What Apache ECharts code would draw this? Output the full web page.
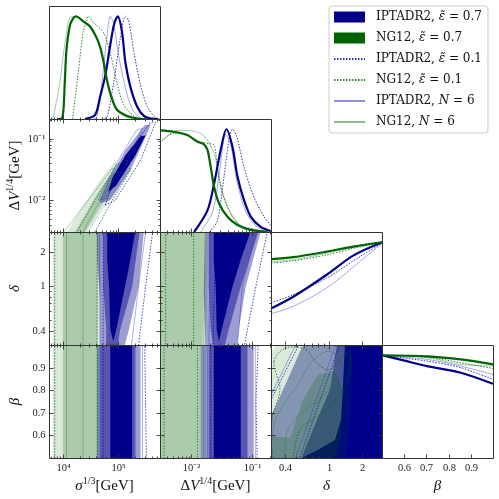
<!DOCTYPE html>
<html>
<head>
<meta charset="utf-8">
<script src="https://cdn.jsdelivr.net/npm/echarts@6/dist/echarts.min.js"></script>
<style>
  html, body { margin: 0; padding: 0; background: #fff; }
  #chart { width: 499px; height: 499px; }
</style>
</head>
<body>
<div id="chart"></div>
<script>
// series names (legend)
const S_I07 = 'IPTADR2, \u03b5\u0303 = 0.7';
const S_G07 = 'NG12, \u03b5\u0303 = 0.7';
const S_I01 = 'IPTADR2, \u03b5\u0303 = 0.1';
const S_G01 = 'NG12, \u03b5\u0303 = 0.1';
const S_I6 = 'IPTADR2, N = 6';
const S_G6 = 'NG12, N = 6';

// axis ranges
const sigmaRange = [5623, 562341];
const dvRange = [0.00302, 0.209];
const deltaRange = [0.3, 3.0];
const betaRange = [0.5, 1.0];

// ticks and tick labels
const sigmaMajor = [1e4, 1e5];
const sigmaMinor = [6e3, 7e3, 8e3, 9e3, 2e4, 3e4, 4e4, 5e4, 6e4, 7e4, 8e4, 9e4, 2e5, 3e5, 4e5, 5e5];
const sigmaLabels = [[1e4, '10\u2074'], [1e5, '10\u2075']];
const dvMajor = [0.01, 0.1];
const dvMinor = [0.004, 0.005, 0.006, 0.007, 0.008, 0.009, 0.02, 0.03, 0.04, 0.05, 0.06, 0.07, 0.08, 0.09, 0.2];
const dvLabels = [[0.01, '10\u207b\u00b2'], [0.1, '10\u207b\u00b9']];
const deltaMajor = [0.4, 1, 2];
const deltaMinor = [0.5, 0.6, 0.7, 0.8, 0.9];
const deltaLabels = [[0.4, '0.4'], [1, '1'], [2, '2']];
const betaMajor = [0.6, 0.7, 0.8, 0.9];
const betaLabels = [[0.6, '0.6'], [0.7, '0.7'], [0.8, '0.8'], [0.9, '0.9']];

// 1D densities: sigma^(1/3)
const sigDensI07 = [[2.51e4,0],[3.81e4,0.04],[4.70e4,0.22],[5.79e4,0.42],[7.14e4,0.72],[8.43e4,0.93],[9.77e4,1.0],[1.16e5,0.85],[1.34e5,0.55],[1.65e5,0.31],[2.18e5,0.12],[2.88e5,0.03],[3.80e5,0.005],[5.0e5,0]];
const sigDensG07 = [[7.94e3,0],[9.77e3,0.01],[1.08e4,0.35],[1.16e4,0.67],[1.34e4,0.91],[1.53e4,0.98],[1.72e4,1.0],[2.33e4,0.95],[3.09e4,0.90],[3.97e4,0.80],[4.70e4,0.70],[5.40e4,0.56],[6.22e4,0.38],[7.45e4,0.22],[9.44e4,0.09],[1.44e5,0.03],[2.18e5,0.005],[3.16e5,0]];
const sigDensI01 = [[5.0e4,0],[6.22e4,0.02],[8.20e4,0.35],[1.08e5,0.78],[1.34e5,1.0],[1.53e5,0.96],[1.89e5,0.66],[2.51e5,0.33],[3.32e5,0.12],[4.70e5,0.01],[5.6e5,0]];
const sigDensG01 = [[1.5e4,0],[1.89e4,0.45],[2.33e4,0.85],[2.69e4,0.96],[2.84e4,1.0],[3.55e4,0.94],[5.40e4,0.84],[7.14e4,0.64],[9.44e4,0.35],[1.24e5,0.14],[1.89e5,0.03],[2.8e5,0]];
const sigDensI6 = [[3.5e4,0],[4.09e4,0.02],[5.05e4,0.35],[6.22e4,0.8],[7.14e4,1.0],[8.20e4,0.93],[1.01e5,0.62],[1.34e5,0.3],[1.77e5,0.1],[2.51e5,0.01],[3.2e5,0]];
const sigDensG6 = [[6.65e3,0],[8.81e3,0.35],[1.08e4,0.72],[1.44e4,1.0],[2.33e4,0.96],[3.81e4,0.83],[5.05e4,0.63],[6.22e4,0.38],[7.67e4,0.18],[1.08e5,0.05],[1.65e5,0]];

// 1D densities: Delta V^(1/4)
const dvDensI07 = [[1.11e-2,0],[1.85e-2,0.21],[2.38e-2,0.47],[3.07e-2,0.80],[3.81e-2,1.0],[4.80e-2,0.83],[5.81e-2,0.54],[7.46e-2,0.31],[9.64e-2,0.15],[0.141,0.05],[0.207,0.01]];
const dvDensG07 = [[3.02e-3,0.99],[5.15e-3,0.976],[8.59e-3,0.944],[1.26e-2,0.879],[1.62e-2,0.854],[1.85e-2,0.80],[2.09e-2,0.636],[2.38e-2,0.44],[2.87e-2,0.28],[3.96e-2,0.149],[5.81e-2,0.068],[9.64e-2,0.02],[0.182,0]];
const dvDensI01 = [[2.0e-2,0],[2.70e-2,0.11],[3.48e-2,0.54],[4.21e-2,0.90],[4.80e-2,1.0],[5.65e-2,0.93],[7.46e-2,0.63],[0.109,0.34],[0.160,0.15],[0.209,0.06]];
const dvDensG01 = [[3.02e-3,0.877],[5.15e-3,0.96],[8.59e-3,0.94],[1.43e-2,0.877],[1.96e-2,0.86],[2.38e-2,0.847],[2.70e-2,0.636],[3.27e-2,0.376],[4.49e-2,0.18],[6.58e-2,0.065],[0.124,0.02],[0.2,0]];
const dvDensI6 = [[1.43e-2,0],[2.26e-2,0.2],[2.95e-2,0.6],[3.71e-2,0.95],[4.49e-2,0.85],[5.65e-2,0.5],[7.96e-2,0.2],[0.117,0.06],[0.171,0.01]];
const dvDensG6 = [[3.02e-3,0.863],[5.87e-3,0.99],[1.43e-2,0.96],[2.38e-2,0.766],[3.07e-2,0.441],[4.49e-2,0.182],[6.58e-2,0.052],[0.12,0]];

// 1D densities: delta
const delDensI07 = [[0.30,0.355],[0.476,0.47],[0.953,0.684],[1.65,0.87],[3.0,1.0]];
const delDensG07 = [[0.30,0.836],[0.476,0.855],[0.953,0.909],[1.65,0.958],[3.0,1.0]];
const delDensI01 = [[0.30,0.41],[0.476,0.49],[0.953,0.652],[1.90,0.861],[3.0,0.99]];
const delDensG01 = [[0.30,0.797],[0.476,0.82],[0.953,0.877],[1.65,0.94],[3.0,1.0]];
const delDensI6 = [[0.30,0.304],[0.476,0.377],[0.953,0.555],[1.90,0.813],[3.0,0.99]];
const delDensG6 = [[0.30,0.81],[0.476,0.83],[0.953,0.894],[1.65,0.95],[3.0,1.0]];

// 1D densities: beta
const betDensI07 = [[0.5,1.0],[0.597,0.95],[0.703,0.894],[0.855,0.83],[1.0,0.722]];
const betDensG07 = [[0.5,1.0],[0.703,0.99],[0.855,0.96],[1.0,0.911]];
const betDensI01 = [[0.5,1.0],[0.703,0.943],[0.855,0.879],[1.0,0.764]];
const betDensG01 = [[0.5,1.0],[0.703,0.982],[0.855,0.927],[1.0,0.872]];
const betDensI6 = [[0.5,1.0],[0.703,0.96],[0.855,0.894],[1.0,0.813]];
const betDensG6 = [[0.5,1.0],[0.703,0.977],[0.855,0.911],[1.0,0.894]];

// 2D contours: sigma vs Delta V
const p21G95 = [[1.04e4,2.5e-3],[2.61e4,2.5e-3],[5.79e4,8.22e-3],[1.08e5,1.74e-2],[1.52e5,2.83e-2],[1.28e5,3.97e-2],[8.43e4,4.12e-2],[4.70e4,2.10e-2],[2.03e4,6.81e-3]];
const p21G68 = [[1.46e4,2.5e-3],[2.21e4,2.5e-3],[4.70e4,7.62e-3],[8.43e4,1.74e-2],[9.98e4,2.53e-2],[7.76e4,2.83e-2],[4.32e4,1.34e-2]];
const p21I95 = [[4.70e4,8.85e-3],[7.14e4,9.91e-3],[1.65e5,3.05e-2],[3.51e5,0.137],[3.81e5,0.171],[2.96e5,0.165],[1.34e5,6.46e-2],[6.56e4,2.10e-2],[4.70e4,1.07e-2]];
const p21I68 = [[6.56e4,1.34e-2],[9.18e4,1.74e-2],[2.03e5,5.35e-2],[3.09e5,0.113],[2.51e5,0.109],[1.34e5,5.35e-2],[7.76e4,2.26e-2]];
const p21G01 = [[1.58e4,2.5e-3],[3.36e4,2.5e-3],[7.76e4,9.91e-3],[1.65e5,3.05e-2],[1.40e5,4.45e-2],[9.18e4,3.68e-2],[3.81e4,9.91e-3]];
const p21G6 = [[8.81e3,2.5e-3],[2.03e4,2.5e-3],[4.70e4,9.91e-3],[9.98e4,2.83e-2],[7.76e4,3.29e-2],[3.36e4,1.20e-2]];
const p21I01 = [[5.79e4,8.22e-3],[8.79e4,9.91e-3],[2.51e5,4.45e-2],[4.70e5,0.185],[3.81e5,0.185],[1.65e5,6.46e-2],[7.14e4,1.44e-2]];
const p21I6 = [[4.32e4,9.91e-3],[6.04e4,1.07e-2],[1.34e5,3.68e-2],[2.72e5,0.148],[2.12e5,0.137],[9.98e4,4.45e-2],[4.70e4,1.20e-2]];

// sigma vs delta
const p31G95 = [[6.56e3,3.5],[5.11e4,3.5],[4.70e4,0.25],[6.56e3,0.25]];
const p31G68 = [[1.0e4,3.5],[4.32e4,3.5],[4.14e4,0.25],[1.0e4,0.25]];
const p31I95 = [[4.14e4,3.5],[2.96e5,3.5],[2.31e5,0.984],[1.52e5,0.396],[1.18e5,0.25],[4.70e4,0.25],[4.70e4,0.757],[4.14e4,1.70]];
const p31Imid = [[5.32e4,3.5],[2.51e5,3.5],[1.77e5,0.984],[1.08e5,0.412],[9.18e4,0.25],[6.04e4,0.25],[6.04e4,0.412],[5.32e4,0.984]];
const p31I68 = [[6.30e4,3.5],[2.12e5,3.5],[1.52e5,1.39],[1.23e5,0.838],[9.18e4,0.412],[8.09e4,0.324],[7.14e4,0.412],[6.84e4,0.927],[6.30e4,1.70]];
const p31G01 = [[7.14e3,3.5],[4.14e4,3.5],[4.14e4,0.25],[7.14e3,0.25]];
const p31G6 = [[1.16e4,3.5],[2.31e4,3.5],[2.31e4,0.25],[1.16e4,0.25]];
const p31I01 = [[5.32e4,3.5],[4.32e5,3.5],[3.09e5,0.984],[2.21e5,0.25],[5.32e4,0.25]];
const p31I6 = [[4.51e4,3.5],[3.22e5,3.5],[2.31e5,0.984],[1.65e5,0.25],[4.70e4,0.25]];

// sigma vs beta
const p41G95 = [[6.56e3,1.05],[4.90e4,1.05],[4.90e4,0.45],[6.56e3,0.45]];
const p41G68 = [[1.0e4,1.05],[4.32e4,1.05],[4.32e4,0.45],[1.0e4,0.45]];
const p41I95 = [[4.14e4,1.05],[2.51e5,1.05],[2.51e5,0.45],[4.14e4,0.45]];
const p41Imid = [[4.70e4,1.05],[2.03e5,1.05],[2.03e5,0.45],[4.70e4,0.45]];
const p41I68 = [[7.14e4,1.05],[1.77e5,1.05],[1.77e5,0.45],[7.14e4,0.45]];
const p41G01 = [[7.14e3,1.05],[4.14e4,1.05],[4.14e4,0.45],[7.14e3,0.45]];
const p41G6 = [[1.16e4,1.05],[2.31e4,1.05],[2.31e4,0.45],[1.16e4,0.45]];
const p41I01 = [[5.32e4,1.05],[2.96e5,1.05],[3.22e5,0.45],[5.32e4,0.45]];
const p41I6 = [[4.51e4,1.05],[2.72e5,1.05],[2.72e5,0.45],[4.51e4,0.45]];

// Delta V vs delta
const p32G95 = [[2.5e-3,3.5],[1.94e-2,3.5],[1.73e-2,0.25],[2.5e-3,0.25]];
const p32G68 = [[2.5e-3,3.5],[1.73e-2,3.5],[1.52e-2,0.25],[2.5e-3,0.25]];
const p32I95 = [[1.73e-2,3.5],[0.152,3.5],[7.96e-2,0.984],[6.10e-2,0.412],[5.65e-2,0.25],[1.73e-2,0.25],[1.60e-2,0.927]];
const p32Imid = [[1.94e-2,3.5],[0.141,3.5],[6.58e-2,0.984],[4.16e-2,0.412],[3.31e-2,0.25],[2.44e-2,0.25],[2.09e-2,0.412],[1.94e-2,0.984]];
const p32I68 = [[2.35e-2,3.5],[0.105,3.5],[6.58e-2,1.70],[4.80e-2,0.984],[3.18e-2,0.41],[2.87e-2,0.324],[2.63e-2,0.41],[2.53e-2,0.984],[2.35e-2,1.70]];
const p32G01 = [[3.75e-3,3.5],[1.09e-2,3.5],[1.09e-2,0.25],[3.75e-3,0.25]];
const p32G6 = [[2.5e-3,3.5],[1.7e-2,3.5],[1.6e-2,0.25],[2.5e-3,0.25]];
const p32I01 = [[2.53e-2,3.5],[0.192,3.5],[0.117,0.984],[7.10e-2,0.25],[2.26e-2,0.25]];
const p32I6 = [[2.09e-2,3.5],[0.126,3.5],[7.0e-2,0.984],[5.65e-2,0.25],[1.94e-2,0.25]];

// Delta V vs beta
const p42G95 = [[2.5e-3,1.05],[1.87e-2,1.05],[1.87e-2,0.45],[2.5e-3,0.45]];
const p42G68 = [[2.5e-3,1.05],[1.43e-2,1.05],[1.43e-2,0.45],[2.5e-3,0.45]];
const p42I95 = [[1.43e-2,1.05],[0.108,1.05],[0.108,0.45],[1.43e-2,0.45]];
const p42Imid = [[1.94e-2,1.05],[8.5e-2,1.05],[8.5e-2,0.45],[1.94e-2,0.45]];
const p42I68 = [[2.35e-2,1.05],[6.58e-2,1.05],[6.58e-2,0.45],[2.35e-2,0.45]];
const p42G01 = [[3.52e-3,1.05],[1.26e-2,1.05],[1.26e-2,0.45],[3.52e-3,0.45]];
const p42G6 = [[2.5e-3,1.05],[1.6e-2,1.05],[1.6e-2,0.45],[2.5e-3,0.45]];
const p42I01 = [[2.09e-2,1.05],[0.13,1.05],[0.118,0.75],[0.124,0.45],[2.09e-2,0.45]];
const p42I6 = [[1.87e-2,1.05],[0.115,1.05],[0.115,0.45],[1.87e-2,0.45]];

// delta vs beta
const p43I95 = [[0.25,0.597],[0.647,1.05],[3.5,1.05],[3.5,0.45],[0.25,0.45]];
const p43Imid = [[1.22,1.05],[3.5,1.05],[3.5,0.45],[0.51,0.45],[0.746,0.647],[1.02,0.803]];
const p43I68 = [[1.42,1.05],[3.5,1.05],[3.5,0.45],[0.52,0.45],[0.567,0.5],[0.794,0.536],[1.13,0.58],[1.28,0.669],[1.34,0.834],[1.39,1.0]];
const p43G95 = [[0.25,0.914],[0.401,1.05],[1.39,1.05],[1.61,0.936],[1.55,0.669],[1.39,0.45],[0.25,0.45]];
const p43G68 = [[0.25,0.602],[0.445,0.589],[0.582,0.758],[0.794,0.870],[1.13,0.883],[1.34,0.794],[1.26,0.580],[1.06,0.45],[0.25,0.45]];
const p43G01 = [[0.32,0.927],[0.401,0.985],[0.607,0.981],[0.794,0.914],[1.02,0.892],[1.39,0.959],[1.55,0.972],[1.48,0.847],[1.13,0.758],[0.828,0.691],[0.547,0.625],[0.445,0.48],[0.326,0.48],[0.306,0.669],[0.361,0.803]];
const p43G6 = [[0.378,0.48],[0.427,0.625],[0.607,0.714],[0.861,0.767],[1.15,0.847],[1.26,0.936],[0.98,0.972],[0.70,0.927],[0.525,0.825],[0.39,0.736],[0.32,0.647],[0.306,0.48]];
const p43I01 = [[0.25,0.68],[0.60,1.05],[3.5,1.05],[3.5,0.45],[0.25,0.45]];
const p43I01b = [[1.35,1.05],[3.5,1.05],[3.5,0.45],[0.50,0.45]];
const p43I6 = [[0.25,0.70],[0.56,1.05],[3.5,1.05],[3.5,0.45],[0.25,0.45]];
const p43I6b = [[1.25,1.05],[3.5,1.05],[3.5,0.45],[0.46,0.45]];

// ---- styling ----
const BLUE = '#00008b', GREEN = '#006400', FRAME = '#333';
const FONT = 'Liberation Serif';
const colLeft = [49, 160, 271, 382];
const rowTop = [6, 119, 232, 345];
const PW = 111, PH = 113;
const MAJ = 4, MIN = 2;

const lineStyles = {};
lineStyles[S_I07] = {color: BLUE, width: 2.2};
lineStyles[S_G07] = {color: GREEN, width: 2.2};
lineStyles[S_I01] = {color: 'rgba(0,0,170,0.8)', width: 1, type: [1.5, 1.5]};
lineStyles[S_G01] = {color: 'rgba(0,100,0,0.8)', width: 1, type: [1.5, 1.5]};
lineStyles[S_I6] = {color: 'rgba(50,50,200,0.55)', width: 0.8};
lineStyles[S_G6] = {color: 'rgba(30,120,30,0.5)', width: 0.8};

const edgeStyles = {};
edgeStyles[S_I01] = {fill: 'none', stroke: 'rgba(0,0,170,0.8)', lineWidth: 0.9, lineDash: [1.5, 1.5]};
edgeStyles[S_G01] = {fill: 'none', stroke: 'rgba(0,100,0,0.8)', lineWidth: 0.9, lineDash: [1.5, 1.5]};
edgeStyles[S_I6] = {fill: 'none', stroke: 'rgba(50,50,200,0.5)', lineWidth: 0.8};
edgeStyles[S_G6] = {fill: 'none', stroke: 'rgba(30,120,30,0.45)', lineWidth: 0.8};

const FILL = {
  I95: 'rgba(0,0,139,0.38)', Imid: 'rgba(0,0,139,0.45)', I68: BLUE,
  G95: 'rgba(0,100,0,0.14)', G68: 'rgba(0,100,0,0.22)'
};

const TITLE = {
  fontFamily: FONT, fontSize: 15, color: '#111', lineHeight: 20,
  rich: {
    i: {fontFamily: FONT, fontSize: 15, fontStyle: 'italic', color: '#111', lineHeight: 20},
    s: {fontFamily: FONT, fontSize: 10, color: '#111', verticalAlign: 'top', lineHeight: 20}
  }
};

const AXES = [
  {type: 'log', min: sigmaRange[0], max: sigmaRange[1], major: sigmaMajor, minor: sigmaMinor, labels: sigmaLabels, title: '{i|\u03c3}{s|1/3}[GeV]'},
  {type: 'log', min: dvRange[0], max: dvRange[1], major: dvMajor, minor: dvMinor, labels: dvLabels, title: '\u0394{i|V}{s|1/4}[GeV]'},
  {type: 'log', min: deltaRange[0], max: deltaRange[1], major: deltaMajor, minor: deltaMinor, labels: deltaLabels, title: '{i|\u03b4}'},
  {type: 'value', min: betaRange[0], max: betaRange[1], major: betaMajor, minor: [], labels: betaLabels, title: '{i|\u03b2}'}
];
const DENS = {type: 'value', min: 0, max: 1.1, major: [], minor: [], labels: []};

const DIAG = [
  [sigDensI6, sigDensG6, sigDensI01, sigDensG01, sigDensI07, sigDensG07],
  [dvDensI6, dvDensG6, dvDensI01, dvDensG01, dvDensI07, dvDensG07],
  [delDensI6, delDensG6, delDensI01, delDensG01, delDensI07, delDensG07],
  [betDensI6, betDensG6, betDensI01, betDensG01, betDensI07, betDensG07]
];
const DIAG_NAMES = [S_I6, S_G6, S_I01, S_G01, S_I07, S_G07];

const PAIRS = [
  {r: 1, c: 0,
    fills: [[S_G07, p21G95, 'G95'], [S_G07, p21G68, 'G68'], [S_I07, p21I95, 'I95'], [S_I07, p21I68, 'I68']],
    lines: [[S_G01, p21G01], [S_G6, p21G6], [S_I01, p21I01], [S_I6, p21I6]]},
  {r: 2, c: 0,
    fills: [[S_G07, p31G95, 'G95'], [S_G07, p31G68, 'G68'], [S_I07, p31I95, 'I95'], [S_I07, p31Imid, 'Imid'], [S_I07, p31I68, 'I68']],
    lines: [[S_G01, p31G01], [S_G6, p31G6], [S_I01, p31I01], [S_I6, p31I6]]},
  {r: 3, c: 0,
    fills: [[S_G07, p41G95, 'G95'], [S_G07, p41G68, 'G68'], [S_I07, p41I95, 'I95'], [S_I07, p41Imid, 'Imid'], [S_I07, p41I68, 'I68']],
    lines: [[S_G01, p41G01], [S_G6, p41G6], [S_I01, p41I01], [S_I6, p41I6]]},
  {r: 2, c: 1,
    fills: [[S_G07, p32G95, 'G95'], [S_G07, p32G68, 'G68'], [S_I07, p32I95, 'I95'], [S_I07, p32Imid, 'Imid'], [S_I07, p32I68, 'I68']],
    lines: [[S_G01, p32G01], [S_G6, p32G6], [S_I01, p32I01], [S_I6, p32I6]]},
  {r: 3, c: 1,
    fills: [[S_G07, p42G95, 'G95'], [S_G07, p42G68, 'G68'], [S_I07, p42I95, 'I95'], [S_I07, p42Imid, 'Imid'], [S_I07, p42I68, 'I68']],
    lines: [[S_G01, p42G01], [S_G6, p42G6], [S_I01, p42I01], [S_I6, p42I6]]},
  {r: 3, c: 2,
    fills: [[S_I07, p43I95, 'I95'], [S_I07, p43Imid, 'Imid'], [S_I07, p43I68, 'I68'], [S_G07, p43G95, 'G95'], [S_G07, p43G68, 'G68']],
    lines: [[S_I01, p43I01], [S_I01, p43I01b], [S_I6, p43I6], [S_I6, p43I6b], [S_G01, p43G01, 0.35], [S_G6, p43G6, 0.35]]}
];

function axisOpt(a, g, isX, named) {
  const o = {
    type: a.type, gridIndex: g, min: a.min, max: a.max,
    axisLine: {show: false}, axisTick: {show: false}, axisLabel: {show: false}, splitLine: {show: false}
  };
  if (a.type === 'log') o.logBase = 10;
  if (named) {
    o.name = a.title;
    o.nameLocation = 'middle';
    o.nameGap = isX ? 18 : 24;
    o.nameRotate = isX ? 0 : 90;
    o.nameTextStyle = TITLE;
  }
  return o;
}

// frame, inward ticks and tick labels of one panel
function decoSeries(g, xa, ya, o) {
  return {
    type: 'custom', xAxisIndex: g, yAxisIndex: g, silent: true, z: 20,
    data: [[xa.min, ya.min]],
    renderItem: function (params, api) {
      const cs = params.coordSys;
      const L = cs.x + 0.5, T = cs.y + 0.5, R = cs.x + cs.width + 0.5, B = cs.y + cs.height + 0.5;
      const kids = [{type: 'rect', shape: {x: L, y: T, width: R - L, height: B - T},
        style: {fill: 'none', stroke: FRAME, lineWidth: 1}}];
      const line = (x1, y1, x2, y2) => kids.push({type: 'line', shape: {x1: x1, y1: y1, x2: x2, y2: y2},
        style: {stroke: FRAME, lineWidth: 0.9}});
      const X = v => Math.round(api.coord([v, ya.min])[0]) + 0.5;
      const Y = v => Math.round(api.coord([xa.min, v])[1]) + 0.5;
      [[xa.major, MAJ], [xa.minor, MIN]].forEach(([vals, len]) => vals.forEach(v => {
        const x = X(v);
        line(x, B, x, B - len);
        if (o.top) line(x, T, x, T + len);
      }));
      if (o.yTicks) {
        [[ya.major, MAJ], [ya.minor, MIN]].forEach(([vals, len]) => vals.forEach(v => {
          const y = Y(v);
          line(L, y, L + len, y);
          line(R, y, R - len, y);
        }));
      }
      const font = '10.5px "' + FONT + '"';
      if (o.xLabels) {
        xa.labels.forEach(([v, t]) => kids.push({type: 'text', x: X(v), y: B + 4,
          style: {text: t, fill: '#222', font: font, align: 'center', verticalAlign: 'top'}}));
      }
      if (o.yLabels) {
        ya.labels.forEach(([v, t]) => kids.push({type: 'text', x: L - 4, y: Y(v),
          style: {text: t, fill: '#222', font: font, align: 'right', verticalAlign: 'middle'}}));
      }
      return {type: 'group', children: kids};
    }
  };
}

function polySeries(g, name, poly, style, z, smooth) {
  return {
    type: 'custom', name: name, xAxisIndex: g, yAxisIndex: g, silent: true, clip: true, z: z,
    data: poly,
    renderItem: function (params, api) {
      if (params.dataIndex !== 0) return null;
      return {type: 'polygon', shape: {points: poly.map(p => api.coord(p)), smooth: smooth || 0}, style: style};
    }
  };
}

const grid = [], xAxis = [], yAxis = [], series = [], decos = [];
const gIdx = {};
for (let r = 0; r < 4; r++) {
  for (let c = 0; c <= r; c++) {
    const g = grid.length;
    gIdx[r + ',' + c] = g;
    const diag = r === c;
    grid.push({left: colLeft[c], top: rowTop[r], width: PW, height: PH, outerBoundsMode: 'none'});
    xAxis.push(axisOpt(AXES[c], g, true, r === 3));
    yAxis.push(axisOpt(diag ? DENS : AXES[r], g, false, c === 0 && r > 0));
    decos.push(decoSeries(g, AXES[c], diag ? DENS : AXES[r],
      {top: !diag, yTicks: !diag, xLabels: r === 3, yLabels: c === 0 && !diag}));
  }
}

// diagonal 1D densities (first, so the legend takes its icons from them)
DIAG.forEach((curves, c) => {
  const g = gIdx[c + ',' + c];
  curves.forEach((d, k) => {
    const name = DIAG_NAMES[k];
    series.push({
      type: 'line', name: name, xAxisIndex: g, yAxisIndex: g, data: d,
      symbol: 'none', showSymbol: false, smooth: 0.3, silent: true, z: 5,
      color: lineStyles[name].color,
      itemStyle: {color: lineStyles[name].color},
      lineStyle: lineStyles[name]
    });
  });
});

// 2D contours
PAIRS.forEach(p => {
  const g = gIdx[p.r + ',' + p.c];
  p.fills.forEach(([name, poly, key]) => {
    series.push(polySeries(g, name, poly, {fill: FILL[key], stroke: 'none'}, 2));
  });
  p.lines.forEach(([name, poly, sm]) => {
    series.push(polySeries(g, name, poly, edgeStyles[name], 3, sm));
  });
});

decos.forEach(d => series.push(d));

const legendText = {};
legendText[S_I07] = 'IPTADR2, {i|\u03b5\u0303} = 0.7';
legendText[S_G07] = 'NG12, {i|\u03b5\u0303} = 0.7';
legendText[S_I01] = 'IPTADR2, {i|\u03b5\u0303} = 0.1';
legendText[S_G01] = 'NG12, {i|\u03b5\u0303} = 0.1';
legendText[S_I6] = 'IPTADR2, {i|N} = 6';
legendText[S_G6] = 'NG12, {i|N} = 6';

const hideMark = {opacity: 0};

const option = {
  animation: false,
  backgroundColor: '#fff',
  textStyle: {fontFamily: FONT},
  grid: grid,
  xAxis: xAxis,
  yAxis: yAxis,
  legend: {
    orient: 'vertical', left: 329, top: 6,
    itemWidth: 31, itemHeight: 11, itemGap: 7,
    padding: [4, 6, 4, 4],
    borderColor: '#cccccc', borderWidth: 1, borderRadius: 3,
    backgroundColor: 'rgba(255,255,255,0.8)',
    selectedMode: false,
    data: [
      {name: S_I07, icon: 'rect', itemStyle: {color: BLUE, opacity: 1}},
      {name: S_G07, icon: 'rect', itemStyle: {color: GREEN, opacity: 1}},
      {name: S_I01, itemStyle: hideMark},
      {name: S_G01, itemStyle: hideMark},
      {name: S_I6, itemStyle: hideMark},
      {name: S_G6, itemStyle: hideMark}
    ],
    formatter: n => '{g| }' + legendText[n],
    textStyle: {
      fontFamily: 'DejaVu Serif', fontSize: 12, color: '#111', lineHeight: 14,
      rich: {
        g: {width: 6},
        i: {fontFamily: 'DejaVu Serif', fontSize: 12, fontStyle: 'italic', color: '#111'}
      }
    }
  },
  series: series
};

const chart = echarts.init(document.getElementById('chart'));
chart.setOption(option);
</script>
</body>
</html>
